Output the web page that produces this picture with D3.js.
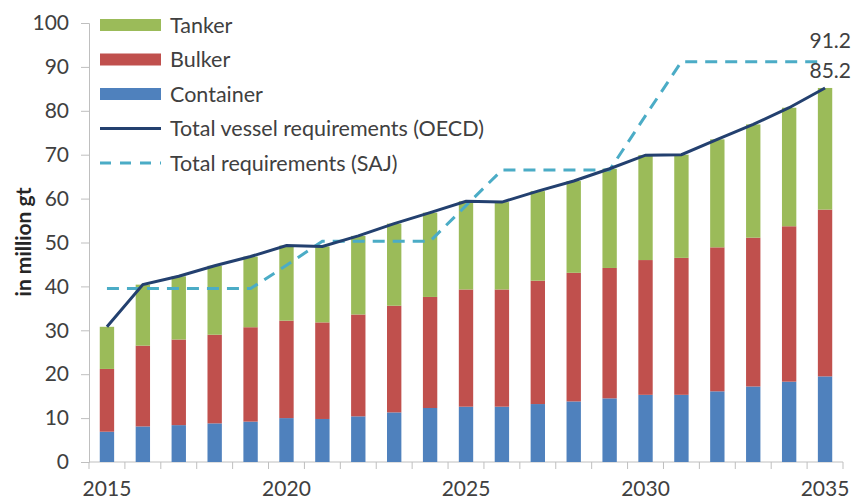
<!DOCTYPE html>
<html>
<head>
<meta charset="utf-8">
<script src="https://cdn.jsdelivr.net/npm/d3@7"></script>
<style>
  body { margin: 0; background: #fff; }
  svg { display: block; font-family: Lato, "Open Sans", sans-serif; }
  .axis path, .axis line { stroke: #bfbfbf; }
  .axis text { fill: #404040; font-size: 21px; font-family: Lato, sans-serif; }
</style>
</head>
<body>
<svg id="chart" width="852" height="503"></svg>
<script>
// values, million gt
var years = d3.range(2015, 2036);
var container = [6.9, 8.1, 8.4, 8.8, 9.2, 10.0, 9.8, 10.4, 11.3, 12.3, 12.6, 12.6, 13.2, 13.8, 14.5, 15.3, 15.3, 16.1, 17.2, 18.3, 19.5];
var bulker    = [14.3, 18.4, 19.5, 20.2, 21.5, 22.2, 22.0, 23.2, 24.3, 25.3, 26.7, 26.7, 28.1, 29.3, 29.7, 30.7, 31.2, 32.8, 33.9, 35.4, 38.0];
var tanker    = [9.6, 13.9, 14.4, 15.7, 16.1, 17.1, 17.3, 17.9, 18.7, 19.2, 20.1, 19.9, 20.4, 20.9, 22.6, 23.9, 23.5, 24.6, 25.8, 27.0, 27.7];
var saj       = [39.5, 39.5, 39.5, 39.5, 39.5, 44.8, 50.3, 50.3, 50.3, 50.3, 58.4, 66.5, 66.5, 66.5, 66.5, 78.9, 91.2, 91.2, 91.2, 91.2, 91.2];
var yTicks = d3.range(0, 101, 10);
var xLabels = [2015, 2020, 2025, 2030, 2035];

var seriesNames = ["Container", "Bulker", "Tanker"];
var colors = {Container: "#4f81bd", Bulker: "#c0504d", Tanker: "#9bbb59"};

var rows = years.map(function (yr, i) {
  return {year: yr, Container: container[i], Bulker: bulker[i], Tanker: tanker[i], SAJ: saj[i]};
});

var svg = d3.select("#chart");

var x = d3.scaleBand().domain(years).range([89, 843]).paddingInner(0.6).paddingOuter(0.3);
var y = d3.scaleLinear().domain([0, 100]).range([462, 23]);

// axes
var yAxis = svg.append("g").attr("class", "axis")
  .attr("transform", "translate(89,0)")
  .call(d3.axisLeft(y).tickValues(yTicks).tickSize(8).tickPadding(12));

var xAxis = svg.append("g").attr("class", "axis")
  .attr("transform", "translate(0,462)")
  .call(d3.axisBottom(x).tickSize(0).tickFormat(function (d) {
    return xLabels.indexOf(d) >= 0 ? d : "";
  }).tickPadding(19));
xAxis.select(".domain").remove();
xAxis.append("line").attr("x1", 89).attr("x2", 843).attr("stroke", "#bfbfbf");

// tick marks between categories
xAxis.selectAll(".sep")
  .data(d3.range(years.length + 1))
  .enter().append("line")
  .attr("x1", function (d) { return 89 + d * (754 / years.length); })
  .attr("x2", function (d) { return 89 + d * (754 / years.length); })
  .attr("y1", 0).attr("y2", 7)
  .attr("stroke", "#bfbfbf");

// stacked bars
var stack = d3.stack().keys(seriesNames);
var stacked = stack(rows);

svg.append("g").selectAll("g")
  .data(stacked)
  .enter().append("g")
  .attr("fill", function (d) { return colors[d.key]; })
  .selectAll("rect")
  .data(function (d) { return d; })
  .enter().append("rect")
  .attr("x", function (d) { return x(d.data.year); })
  .attr("width", x.bandwidth())
  .attr("y", function (d) { return y(d[1]); })
  .attr("height", function (d) { return y(d[0]) - y(d[1]); });

var cx = function (d) { return x(d.year) + x.bandwidth() / 2; };

// SAJ dashed line
var sajLine = d3.line().x(cx).y(function (d) { return y(d.SAJ); });
svg.append("path")
  .datum(rows)
  .attr("d", sajLine)
  .attr("fill", "none")
  .attr("stroke", "#4bacc6")
  .attr("stroke-width", 3)
  .attr("stroke-dasharray", "12,8");

// OECD total line = top of the stack
var topLayer = stacked[stacked.length - 1];
var totLine = d3.line()
  .x(function (d) { return cx(d.data); })
  .y(function (d) { return y(d[1]); });
svg.append("path")
  .datum(topLayer)
  .attr("d", totLine)
  .attr("fill", "none")
  .attr("stroke", "#23406f")
  .attr("stroke-width", 3);

// end labels
var last = rows[rows.length - 1];
var lastTotal = topLayer[topLayer.length - 1][1];
svg.append("text").attr("x", 851).attr("y", y(last.SAJ) - 14)
  .attr("text-anchor", "end").attr("font-size", 21).attr("fill", "#404040")
  .text(d3.format(".1f")(last.SAJ));
svg.append("text").attr("x", 851).attr("y", y(lastTotal) - 10)
  .attr("text-anchor", "end").attr("font-size", 21).attr("fill", "#404040")
  .text(d3.format(".1f")(lastTotal));

// y title
svg.append("text")
  .attr("transform", "translate(31,242) rotate(-90)")
  .attr("text-anchor", "middle")
  .attr("font-size", 21).attr("font-weight", "bold").attr("fill", "#262626")
  .text("in million gt");

// legend
var legendItems = [
  {name: "Tanker", type: "bar", color: colors.Tanker},
  {name: "Bulker", type: "bar", color: colors.Bulker},
  {name: "Container", type: "bar", color: colors.Container},
  {name: "Total vessel requirements (OECD)", type: "line", color: "#23406f"},
  {name: "Total requirements (SAJ)", type: "dash", color: "#4bacc6"}
];
var legend = svg.append("g").selectAll("g")
  .data(legendItems)
  .enter().append("g")
  .attr("transform", function (d, i) { return "translate(100," + (25 + i * 34.5) + ")"; });

legend.filter(function (d) { return d.type == "bar"; })
  .append("rect").attr("x", 0).attr("y", -6).attr("width", 61).attr("height", 12)
  .attr("fill", function (d) { return d.color; });
legend.filter(function (d) { return d.type != "bar"; })
  .append("line").attr("x1", 0).attr("x2", 61).attr("y1", 0).attr("y2", 0)
  .attr("stroke", function (d) { return d.color; })
  .attr("stroke-width", 3)
  .attr("stroke-dasharray", function (d) { return d.type == "dash" ? "11,9" : null; });
legend.append("text")
  .attr("x", 70).attr("y", 0).attr("dy", "0.35em")
  .attr("font-size", 21.5).attr("fill", "#404040")
  .text(function (d) { return d.name; });
</script>
</body>
</html>
